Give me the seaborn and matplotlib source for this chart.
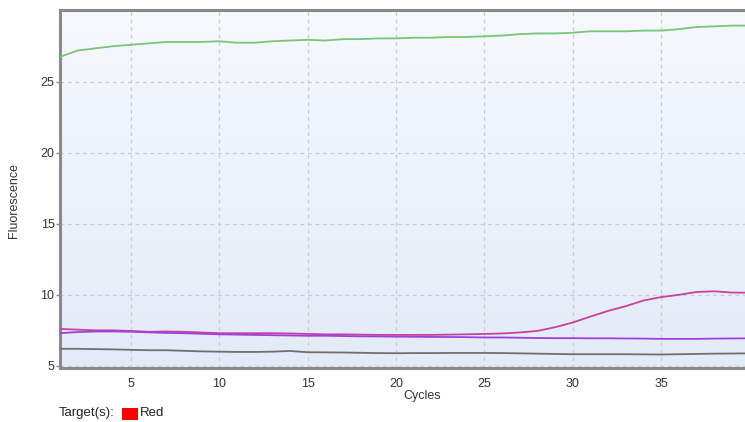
import numpy as np
import pandas as pd
import matplotlib
matplotlib.use("Agg")
import matplotlib.pyplot as plt
import seaborn as sns
from matplotlib.patches import Rectangle

cycles = list(range(1, 41))

well_green = [26.75, 27.2, 27.35, 27.5, 27.6, 27.7, 27.8, 27.8, 27.8, 27.85,
              27.75, 27.75, 27.85, 27.9, 27.95, 27.9, 28.0, 28.0, 28.05, 28.05,
              28.1, 28.1, 28.15, 28.15, 28.2, 28.25, 28.35, 28.4, 28.4, 28.45,
              28.55, 28.55, 28.55, 28.6, 28.6, 28.7, 28.85, 28.9, 28.95, 28.95]
well_pink = [7.6, 7.55, 7.5, 7.5, 7.46, 7.4, 7.42, 7.4, 7.35, 7.3,
             7.3, 7.3, 7.3, 7.28, 7.25, 7.22, 7.22, 7.2, 7.18, 7.18,
             7.18, 7.18, 7.2, 7.22, 7.25, 7.28, 7.35, 7.46, 7.72, 8.05,
             8.47, 8.87, 9.2, 9.6, 9.84, 10.0, 10.2, 10.25, 10.16, 10.15]
well_purple = [7.3, 7.38, 7.42, 7.42, 7.4, 7.36, 7.32, 7.3, 7.26, 7.22,
               7.2, 7.18, 7.16, 7.14, 7.12, 7.12, 7.1, 7.08, 7.07, 7.06,
               7.05, 7.04, 7.03, 7.02, 7.0, 7.0, 6.98, 6.96, 6.95, 6.95,
               6.94, 6.94, 6.93, 6.92, 6.9, 6.9, 6.9, 6.92, 6.93, 6.94]
well_gray = [6.2, 6.2, 6.18, 6.16, 6.13, 6.1, 6.1, 6.06, 6.02, 6.0,
             5.98, 5.98, 6.0, 6.05, 5.96, 5.95, 5.94, 5.92, 5.9, 5.89,
             5.9, 5.9, 5.91, 5.91, 5.91, 5.9, 5.88, 5.86, 5.84, 5.82,
             5.82, 5.82, 5.82, 5.81, 5.8, 5.82, 5.84, 5.86, 5.87, 5.88]

x_ticks = [5, 10, 15, 20, 25, 30, 35]
y_ticks = [5, 10, 15, 20, 25]

wells = {"A1": well_green, "A2": well_pink, "A3": well_purple, "A4": well_gray}
palette = {"A1": "#7cc47a", "A2": "#c8419f", "A3": "#a03ede", "A4": "#6f6f6f"}

df = pd.DataFrame({
    "Cycles": np.tile(cycles, len(wells)),
    "Fluorescence": np.concatenate([wells[k] for k in wells]),
    "Well": np.repeat(list(wells.keys()), len(cycles)),
})

sns.set_theme(style="white")
plt.rcParams["font.family"] = ["Liberation Sans", "DejaVu Sans"]

W, H = 745, 422
fig = plt.figure(figsize=(W / 100, H / 100), dpi=100)
ax = fig.add_axes([60 / W, 1 - 368 / H, (749.5 - 60) / W, (368 - 10) / H])

# soft vertical gradient for the plot area
grad = np.linspace(0, 1, 256).reshape(-1, 1)
cmap = matplotlib.colors.LinearSegmentedColormap.from_list("bg", ["#f6f9fd", "#e2ebf7"])
ax.imshow(grad, cmap=cmap, aspect="auto", extent=[0, 1, 0, 1],
          transform=ax.transAxes, zorder=0)

sns.lineplot(data=df, x="Cycles", y="Fluorescence", hue="Well", palette=palette,
             linewidth=1.3, legend=False, ax=ax, zorder=3)

ax.set_xlim(1, 40)
ax.set_ylim(4.85, 30.05)
ax.set_xticks(x_ticks)
ax.set_yticks(y_ticks)
ax.grid(True, color="#c9ccd2", linestyle=(0, (3, 3)), linewidth=0.9, zorder=1)
ax.set_axisbelow(True)

for side in ["left", "top", "bottom"]:
    ax.spines[side].set_color("#8a8a8a")
    ax.spines[side].set_linewidth(2.2)
ax.spines["right"].set_visible(False)

ax.tick_params(axis="y", left=True, length=3, width=1, color="#8a8a8a",
               labelsize=9, labelcolor="#333333", pad=1)
ax.tick_params(axis="x", bottom=False, labelsize=9, labelcolor="#333333", pad=1)

ax.set_xlabel("")
ax.set_ylabel("")
fig.text(422 / W, 1 - 396 / H, "Cycles", fontsize=9, color="#333333",
         ha="center", va="center")
fig.text(14 / W, 1 - 201 / H, "Fluorescence", fontsize=9, color="#333333",
         ha="center", va="center", rotation=90)

fig.text(59 / W, 1 - 413 / H, "Target(s):", fontsize=9.5, color="#222222",
         va="center", ha="left")
fig.patches.append(Rectangle((122 / W, 1 - 420 / H), 16 / W, 12 / H,
                             transform=fig.transFigure, facecolor="#ff0000",
                             edgecolor="none"))
fig.text(140 / W, 1 - 413 / H, "Red", fontsize=9.5, color="#222222",
         va="center", ha="left")

fig.savefig("out.png", dpi=100)
